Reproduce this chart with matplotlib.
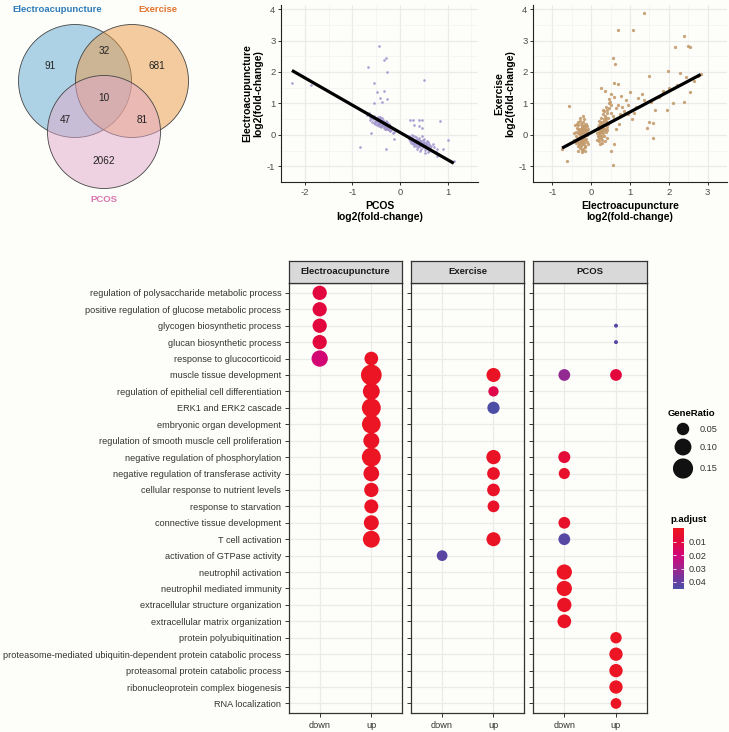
import numpy as np
import matplotlib
matplotlib.use("Agg")
import matplotlib.pyplot as plt
from matplotlib.patches import Circle
from matplotlib.colors import LinearSegmentedColormap, Normalize
from matplotlib.cm import ScalarMappable

plt.rcParams['font.family'] = ['Liberation Sans', 'DejaVu Sans']
plt.rcParams['axes.unicode_minus'] = False

W, H = 729, 732
BG = '#FDFDF9'

# ---- venn data ----
venn_sets = ['Electroacupuncture', 'Exercise', 'PCOS']
# EA only, EA&Ex, Ex only, all three, EA&PCOS, Ex&PCOS, PCOS only
venn_counts = [91, 32, 681, 10, 47, 81, 2062]

# ---- scatter 1: PCOS (x) vs Electroacupuncture (y), log2 fold-change ----
pcos_vs_ea = [
    (-2.27, 1.65), (-1.88, 1.59), (-0.44, 2.83), (-0.30, 2.45), (-0.34, 2.37), (-0.27, 2.00),
    (-0.68, 2.16), (-0.55, 1.65), (-0.48, 1.36), (-0.34, 1.39), (-0.27, 1.13), (-0.41, 1.16),
    (-0.54, 1.01), (-0.37, 1.04), (0.50, 1.74), (0.85, 0.43), (0.22, 0.47), (0.28, 0.47),
    (0.40, 0.48), (0.47, 0.48), (0.30, 0.32), (0.40, 0.28), (0.47, 0.23), (1.02, -0.15),
    (-0.13, -0.12), (-0.29, -0.45), (-0.84, -0.40), (0.91, -0.45), (-0.60, 0.05), (0.78, -0.66),
    (0.59, -0.56), (1.13, -0.82),
    (-0.70, 0.62), (-0.66, 0.70), (-0.64, 0.58), (-0.15, 0.05), (-0.12, 0.10),
    (-0.62, 0.48), (-0.60, 0.55), (-0.58, 0.42), (-0.57, 0.50), (-0.55, 0.38), (-0.54, 0.60),
    (-0.53, 0.45), (-0.52, 0.33), (-0.51, 0.52), (-0.50, 0.40), (-0.49, 0.47), (-0.48, 0.30),
    (-0.47, 0.56), (-0.46, 0.36), (-0.45, 0.43), (-0.44, 0.28), (-0.43, 0.50), (-0.42, 0.38),
    (-0.41, 0.33), (-0.40, 0.45), (-0.39, 0.25), (-0.38, 0.40), (-0.37, 0.31), (-0.36, 0.48),
    (-0.35, 0.35), (-0.34, 0.22), (-0.33, 0.42), (-0.32, 0.28), (-0.31, 0.36), (-0.30, 0.18),
    (-0.29, 0.32), (-0.28, 0.25), (-0.27, 0.40), (-0.26, 0.20), (-0.25, 0.30), (-0.24, 0.15),
    (-0.23, 0.26), (-0.22, 0.22), (-0.21, 0.12), (-0.20, 0.28), (-0.45, 0.52), (-0.42, 0.58),
    (-0.38, 0.52), (-0.36, 0.27), (-0.33, 0.33), (-0.30, 0.44), (-0.28, 0.34), (-0.26, 0.29),
    (-0.40, 0.29), (-0.35, 0.40), (-0.31, 0.24), (-0.29, 0.38), (-0.47, 0.41), (-0.44, 0.35),
    (-0.37, 0.45), (-0.34, 0.30), (-0.32, 0.20), (-0.27, 0.18), (-0.24, 0.34), (-0.18, 0.16),
    (0.18, -0.05), (0.20, -0.12), (0.21, -0.20), (0.22, -0.08), (0.23, -0.15), (0.24, -0.25),
    (0.25, -0.10), (0.26, -0.18), (0.27, -0.30), (0.28, -0.14), (0.29, -0.22), (0.30, -0.05),
    (0.31, -0.28), (0.32, -0.17), (0.33, -0.35), (0.34, -0.21), (0.35, -0.12), (0.36, -0.27),
    (0.37, -0.40), (0.38, -0.19), (0.39, -0.31), (0.40, -0.24), (0.41, -0.10), (0.42, -0.36),
    (0.43, -0.28), (0.44, -0.45), (0.45, -0.20), (0.46, -0.33), (0.47, -0.26), (0.48, -0.15),
    (0.49, -0.38), (0.50, -0.30), (0.51, -0.22), (0.52, -0.48), (0.53, -0.34), (0.54, -0.27),
    (0.55, -0.40), (0.56, -0.18), (0.57, -0.32), (0.58, -0.44), (0.60, -0.36), (0.62, -0.28),
    (0.64, -0.42), (0.66, -0.35), (0.68, -0.50), (0.70, -0.30), (0.72, -0.40), (0.75, -0.55),
    (0.78, -0.45), (0.26, -0.02), (0.30, -0.35), (0.33, -0.08), (0.36, -0.45), (0.40, -0.15),
    (0.43, -0.52), (0.46, -0.05), (0.50, -0.12), (0.53, -0.58), (0.58, -0.22), (0.62, -0.50),
    (0.28, -0.26), (0.35, -0.30), (0.38, -0.22), (0.42, -0.20), (0.45, -0.30), (0.48, -0.25),
    (0.52, -0.38), (0.55, -0.30), (0.32, -0.24), (0.39, -0.37),
]
fit1_slope, fit1_intercept = -0.868, 0.077

# ---- scatter 2: Electroacupuncture (x) vs Exercise (y) ----
ea_vs_ex = [
    (1.35, 3.88), (0.70, 3.32), (1.07, 3.32), (2.38, 3.15), (2.15, 2.78), (2.50, 2.82),
    (2.55, 2.78), (0.57, 2.46), (0.62, 2.25), (1.98, 2.03), (1.50, 1.88), (2.30, 1.97),
    (2.45, 1.85), (2.75, 1.88), (2.55, 1.35), (2.40, 1.05), (2.10, 1.00), (1.95, 0.78),
    (1.65, 0.80), (1.60, 0.38), (1.60, -0.10), (1.50, 0.40), (1.45, 0.22), (0.55, -0.97),
    (-0.58, 0.92), (-0.62, -0.82), (0.50, -0.50), (0.68, 1.62), (0.60, 1.65), (1.00, 1.35),
    (1.30, 1.30), (1.20, 1.18), (0.85, 0.75), (0.95, 0.65), (1.10, 0.70), (1.35, 1.10),
    (1.75, 1.20), (1.85, 1.40), (2.00, 1.50), (2.20, 1.60), (1.15, 0.90), (0.90, 1.10),
    (0.78, 1.25), (1.05, 0.50), (0.72, 0.35), (0.65, 0.20), (0.60, -0.30), (2.65, 1.70),
    (1.55, 1.05), (0.95, 0.95), (-0.75, -0.45), (2.82, 1.95),
    (-0.40, 0.10), (-0.38, -0.05), (-0.37, 0.22), (-0.36, -0.18), (-0.35, 0.05), (-0.34, 0.30),
    (-0.33, -0.10), (-0.32, 0.15), (-0.31, -0.25), (-0.30, 0.02), (-0.29, 0.20), (-0.28, -0.15),
    (-0.27, 0.35), (-0.26, -0.05), (-0.25, 0.10), (-0.24, -0.30), (-0.23, 0.25), (-0.22, 0.00),
    (-0.21, -0.20), (-0.20, 0.12), (-0.19, -0.08), (-0.18, 0.30), (-0.17, -0.35), (-0.16, 0.05),
    (-0.15, 0.18), (-0.14, -0.12), (-0.13, 0.08), (-0.12, -0.22), (-0.11, 0.15), (-0.10, -0.02),
    (-0.35, -0.35), (-0.33, 0.40), (-0.30, -0.42), (-0.28, 0.45), (-0.25, -0.48), (-0.22, 0.42),
    (-0.20, -0.45), (-0.18, 0.50), (-0.15, -0.40), (-0.13, 0.35), (-0.39, -0.25), (-0.36, 0.35),
    (-0.32, -0.30), (-0.29, -0.02), (-0.26, 0.18), (-0.24, 0.05), (-0.23, -0.12), (-0.21, 0.20),
    (-0.19, 0.08), (-0.17, -0.15), (-0.27, -0.22), (-0.25, 0.28), (-0.22, -0.28), (-0.20, -0.05),
    (-0.18, -0.25), (-0.16, 0.25), (-0.14, 0.00), (-0.31, 0.08), (-0.28, 0.12), (-0.26, -0.35),
    (-0.45, -0.15), (-0.42, 0.30), (-0.44, 0.05), (-0.08, 0.20), (-0.09, -0.30), (-0.33, -0.50),
    (-0.24, -0.55), (-0.16, -0.52), (-0.30, 0.55), (-0.20, 0.60), (-0.23, 0.15), (-0.21, -0.10),
    (-0.27, 0.05), (-0.24, -0.18), (-0.19, 0.18), (-0.29, -0.08), (-0.34, 0.18), (-0.15, 0.10),
    (-0.12, 0.28), (-0.37, -0.12),
    (0.15, 0.05), (0.16, -0.15), (0.17, 0.20), (0.18, -0.05), (0.19, 0.10), (0.20, 0.30),
    (0.21, -0.20), (0.22, 0.15), (0.23, 0.00), (0.24, 0.25), (0.25, -0.10), (0.26, 0.40),
    (0.27, 0.08), (0.28, 0.20), (0.29, -0.25), (0.30, 0.35), (0.31, 0.05), (0.32, 0.50),
    (0.33, 0.15), (0.34, -0.05), (0.35, 0.30), (0.36, 0.60), (0.37, 0.10), (0.38, 0.45),
    (0.40, 0.25), (0.41, 0.70), (0.42, 0.15), (0.44, 0.55), (0.46, 0.85), (0.48, 0.40),
    (0.20, 0.45), (0.22, -0.30), (0.25, 0.55), (0.28, -0.15), (0.30, 0.65), (0.33, 0.75),
    (0.35, -0.20), (0.38, 0.90), (0.40, -0.10), (0.45, 1.00), (0.18, 0.25), (0.21, 0.05),
    (0.24, 0.10), (0.26, 0.18), (0.27, -0.05), (0.29, 0.12), (0.31, 0.22), (0.23, 0.35),
    (0.19, -0.10), (0.28, 0.40), (0.34, 0.45), (0.36, 0.20), (0.39, 0.55), (0.43, 0.35),
    (0.50, 0.70), (0.52, 0.95), (0.55, 0.60), (0.48, 1.05), (0.42, 0.80), (0.30, 0.80),
    (0.60, 0.50), (0.65, 0.85), (0.70, 0.95), (0.75, 0.65), (0.80, 0.90), (0.58, 1.20),
    (0.50, 1.30), (0.45, 1.15), (0.35, 1.40), (0.25, 1.50),
]
fit2_slope, fit2_intercept = 0.655, 0.071

# ---- GO enrichment dot plot ----
go_terms = [
    'regulation of polysaccharide metabolic process',
    'positive regulation of glucose metabolic process',
    'glycogen biosynthetic process',
    'glucan biosynthetic process',
    'response to glucocorticoid',
    'muscle tissue development',
    'regulation of epithelial cell differentiation',
    'ERK1 and ERK2 cascade',
    'embryonic organ development',
    'regulation of smooth muscle cell proliferation',
    'negative regulation of phosphorylation',
    'negative regulation of transferase activity',
    'cellular response to nutrient levels',
    'response to starvation',
    'connective tissue development',
    'T cell activation',
    'activation of GTPase activity',
    'neutrophil activation',
    'neutrophil mediated immunity',
    'extracellular structure organization',
    'extracellular matrix organization',
    'protein polyubiquitination',
    'proteasome-mediated ubiquitin-dependent protein catabolic process',
    'proteasomal protein catabolic process',
    'ribonucleoprotein complex biogenesis',
    'RNA localization',
]
panels = ['Electroacupuncture', 'Exercise', 'PCOS']
directions = ['down', 'up']

dot_panel = (['Electroacupuncture'] * 17 + ['Exercise'] * 9 + ['PCOS'] * 17)
dot_dir = (['down'] * 5 + ['up'] * 12
           + ['up'] * 8 + ['down']
           + ['down'] * 9 + ['up'] * 8)
dot_term = [0, 1, 2, 3, 4,
            4, 5, 6, 7, 8, 9, 10, 11, 12, 13, 14, 15,
            5, 6, 7, 10, 11, 12, 13, 15, 16,
            5, 10, 11, 14, 15, 17, 18, 19, 20,
            2, 3, 5, 21, 22, 23, 24, 25]
dot_ratio = [0.068, 0.068, 0.068, 0.068, 0.092,
             0.062, 0.160, 0.100, 0.130, 0.126, 0.088, 0.130, 0.085, 0.068, 0.065, 0.076, 0.100,
             0.065, 0.033, 0.048, 0.068, 0.052, 0.052, 0.044, 0.065, 0.036,
             0.044, 0.046, 0.039, 0.044, 0.044, 0.079, 0.079, 0.068, 0.062,
             0.012, 0.012, 0.044, 0.041, 0.058, 0.058, 0.058, 0.036]
dot_padj = [0.010, 0.010, 0.010, 0.010, 0.019,
            0.002, 0.001, 0.002, 0.001, 0.001, 0.002, 0.001, 0.002, 0.002, 0.002, 0.002, 0.001,
            0.002, 0.012, 0.045, 0.002, 0.003, 0.003, 0.003, 0.002, 0.042,
            0.032, 0.008, 0.004, 0.004, 0.043, 0.001, 0.001, 0.002, 0.002,
            0.042, 0.042, 0.010, 0.001, 0.001, 0.001, 0.001, 0.001]
legend_ratios = [0.05, 0.10, 0.15]
cbar_ticks = [0.01, 0.02, 0.03, 0.04]

fig = plt.figure(figsize=(W / 100, H / 100), dpi=100, facecolor=BG)


def px_axes(left, top, right, bottom):
    return fig.add_axes([left / W, 1 - bottom / H, (right - left) / W, (bottom - top) / H])


def ftext(x, y, s, **kw):
    fig.text(x / W, 1 - y / H, s, **kw)


# ================= Venn =================
av = px_axes(0, 0, 240, 240)
av.set_xlim(0, 240)
av.set_ylim(240, 0)
av.set_aspect('equal')
av.axis('off')
circ = [((75, 81), '#5FA8D2'), ((132, 81), '#EB9A45'), ((104, 132), '#E3A9CB')]
for (cx, cy), col in circ:
    av.add_patch(Circle((cx, cy), 56.5, facecolor=col, alpha=0.5, edgecolor='none'))
    av.add_patch(Circle((cx, cy), 56.5, facecolor='none', edgecolor='#444444', lw=0.6))
count_pos = [(50, 66), (104, 51), (157, 66), (104, 98), (65, 120), (142, 120), (104, 161)]
for (x, y), n in zip(count_pos, venn_counts):
    av.text(x, y, str(n), ha='center', va='center', fontsize=7.2, color='#222222')
name_pos = [(57, 9), (158, 10), (104, 200)]
name_col = ['#2F7DBA', '#E2742E', '#DB74AE']
for (x, y), s, c in zip(name_pos, venn_sets, name_col):
    av.text(x, y, s, ha='center', va='center', fontsize=6.8, fontweight='bold', color=c)


# ================= Scatter panels =================
def style_scatter(ax, xlim, ylim, xticks, yticks, xlabel, ylabel):
    ax.set_facecolor(BG)
    ax.set_xlim(*xlim)
    ax.set_ylim(*ylim)
    ax.set_xticks(xticks)
    ax.set_yticks(yticks)
    ax.set_xticks([t + 0.5 for t in xticks[:-1]] + [xticks[0] - 0.5, xticks[-1] + 0.5], minor=True)
    ax.set_yticks([t + 0.5 for t in yticks[:-1]] + [yticks[0] - 0.5], minor=True)
    ax.grid(True, which='major', color='#EBEBEB', lw=0.9)
    ax.grid(True, which='minor', color='#F2F2F2', lw=0.5)
    ax.set_axisbelow(True)
    for sp in ['top', 'right']:
        ax.spines[sp].set_visible(False)
    for sp in ['left', 'bottom']:
        ax.spines[sp].set_color('#222222')
        ax.spines[sp].set_linewidth(0.8)
    ax.tick_params(which='major', length=2.5, width=0.7, color='#333333',
                   labelsize=6.8, labelcolor='#4D4D4D', pad=1.5)
    ax.tick_params(which='minor', length=0)
    ax.set_xlabel(xlabel, fontsize=7.5, fontweight='bold', labelpad=3, linespacing=1.1)
    ax.set_ylabel(ylabel, fontsize=7.5, fontweight='bold', labelpad=3, linespacing=1.1)


a1 = px_axes(281, 5, 478, 182)
p1 = np.array(pcos_vs_ea)
a1.scatter(p1[:, 0], p1[:, 1], s=3.5, color='#A093CD', alpha=0.9, linewidths=0)
xx = np.linspace(p1[:, 0].min(), p1[:, 0].max(), 50)
a1.plot(xx, fit1_intercept + fit1_slope * xx, color='black', lw=2.3, solid_capstyle='butt')
style_scatter(a1, (-2.39, 1.64), (-1.23, 4.13), [-2, -1, 0, 1], [-1, 0, 1, 2, 3, 4],
              'PCOS\nlog2(fold-change)', 'Electroacupuncture\nlog2(fold-change)')

a2 = px_axes(533, 5, 727, 182)
p2 = np.array(ea_vs_ex)
a2.scatter(p2[:, 0], p2[:, 1], s=5.5, color='#C49B6C', alpha=0.9, linewidths=0)
xx = np.linspace(p2[:, 0].min(), p2[:, 0].max(), 50)
a2.plot(xx, fit2_intercept + fit2_slope * xx, color='black', lw=2.3, solid_capstyle='butt')
style_scatter(a2, (-1.26, 3.03), (-1.23, 4.13), [-1, 0, 1, 2, 3], [-1, 0, 1, 2, 3, 4],
              'Electroacupuncture\nlog2(fold-change)', 'Exercise\nlog2(fold-change)')

# ================= Dot plot =================
cmap = LinearSegmentedColormap.from_list(
    'padj', [(0.0, '#EC1620'), (0.22, '#E2083E'), (0.44, '#D1077A'),
             (0.66, '#A0248E'), (0.85, '#6B3C9F'), (1.0, '#4A4FA5')])
norm = Normalize(0.0, 0.0455)

r_min, r_max = min(dot_ratio), max(dot_ratio)


def ratio_to_s(r):
    d = 4.0 + 16.7 * np.sqrt(np.clip((np.asarray(r) - r_min) / (r_max - r_min), 0, 1))
    return (d * 0.72) ** 2


panel_x = [(288.7, 402.3), (411.3, 524.3), (533.3, 647.0)]
dp = np.array(dot_panel)
dd = np.array(dot_dir)
dt = np.array(dot_term)
dr = np.array(dot_ratio)
dq = np.array(dot_padj)
n_terms = len(go_terms)
for i, (panel, (l, r)) in enumerate(zip(panels, panel_x)):
    ax = px_axes(l, 283, r, 713.3)
    ax.set_facecolor(BG)
    m = dp == panel
    xs = np.array([directions.index(d) + 1 for d in dd[m]])
    ax.scatter(xs, dt[m] + 1, s=ratio_to_s(dr[m]), c=dq[m], cmap=cmap, norm=norm,
               linewidths=0, zorder=3)
    ax.set_xlim(0.4, 2.6)
    ax.set_ylim(n_terms + 0.6, 0.4)
    ax.set_xticks([1, 2])
    ax.set_xticklabels(directions)
    ax.set_yticks(range(1, n_terms + 1))
    if i == 0:
        ax.set_yticklabels(go_terms)
    else:
        ax.set_yticklabels([])
        ax.tick_params(axis='y', length=0)
    ax.grid(True, color='#EBEBEB', lw=0.9)
    ax.set_axisbelow(True)
    for sp in ax.spines.values():
        sp.set_color('#333333')
        sp.set_linewidth(0.9)
    ax.tick_params(length=2.8, width=0.7, color='#333333', labelsize=6.6,
                   labelcolor='#333333', pad=2.5)
    sa = px_axes(l, 260.7, r, 283)
    sa.set_facecolor('#D9D9D9')
    sa.set_xticks([])
    sa.set_yticks([])
    for sp in sa.spines.values():
        sp.set_color('#333333')
        sp.set_linewidth(0.9)
    sa.text(0.5, 0.5, panel, transform=sa.transAxes, ha='center', va='center',
            fontsize=6.8, fontweight='bold', color='#1A1A1A')

# GeneRatio legend
ftext(668, 413, 'GeneRatio', fontsize=6.8, fontweight='bold', ha='left', va='center')
la = px_axes(665, 418, 729, 480)
la.set_xlim(665, 729)
la.set_ylim(480, 418)
la.axis('off')
leg_y = [429, 447, 468.5]
la.scatter([683] * 3, leg_y, s=ratio_to_s(legend_ratios), color='#111111', linewidths=0)
for y, v in zip(leg_y, legend_ratios):
    la.text(700, y, f'{v:.2f}', fontsize=6.6, color='#333333', ha='left', va='center')

# p.adjust colourbar
ftext(670.5, 520, 'p.adjust', fontsize=6.8, fontweight='bold', ha='left', va='center')
cax = px_axes(672.7, 528.3, 684.3, 589.3)
cb = fig.colorbar(ScalarMappable(norm=norm, cmap=cmap), cax=cax)
cb.outline.set_visible(False)
cax.invert_yaxis()
cb.set_ticks(cbar_ticks)
cb.set_ticklabels([f'{t:.2f}' for t in cbar_ticks])
cax.tick_params(direction='in', length=2.5, width=0.6, color='white', labelsize=6.6,
                labelcolor='#333333', left=True, right=True, pad=3)

fig.savefig('out.png', dpi=100, facecolor=BG)
